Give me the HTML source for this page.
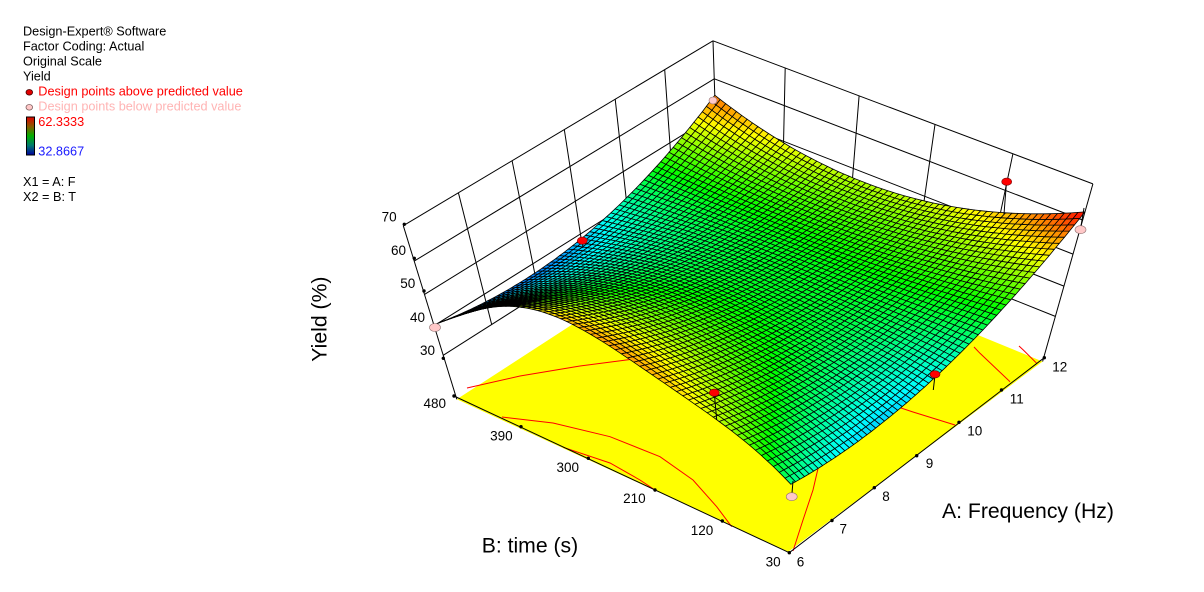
<!DOCTYPE html>
<html><head><meta charset="utf-8"><title>Yield response surface</title>
<style>
html,body{margin:0;padding:0;background:#fff}
body{width:1204px;height:592px;overflow:hidden}
svg{display:block}
</style></head><body>
<svg id="c" width="1204" height="592" viewBox="0 0 1204 592" xmlns="http://www.w3.org/2000/svg" font-family="'Liberation Sans', Arial, sans-serif">
<defs>
<linearGradient id="cb" x1="0" y1="0" x2="0" y2="1">
<stop offset="0" stop-color="#e00000"/>
<stop offset="0.25" stop-color="#8a5a00"/>
<stop offset="0.5" stop-color="#00b000"/>
<stop offset="0.75" stop-color="#007a70"/>
<stop offset="1" stop-color="#0000a0"/>
</linearGradient>
</defs>
<rect width="1204" height="592" fill="#fff"/>
<g id="floor"></g>
<g id="cont" fill="none" stroke="#ff0000" stroke-width="1">
<polyline points="467,388 520,376 580,366 642,358 700,351"/>
<polyline points="502,417 553,423 610,436.7 660,456.7 693,480 716.7,506.7 731.7,526.7"/>
<polyline points="563.3,447.3 610,463 640,480 655,490"/>
<polyline points="793,551 803,520 813,490 820,460"/>
<polyline points="880,401 913,412 955,425"/>
<polyline points="974,347 980,353.3 1010,381.7"/>
<polyline points="1019,346 1023.3,350 1036.7,363.3"/>
</g>
<g id="faxes" stroke="#000" stroke-width="1" fill="none">
<polyline points="454,396 789.3,552.7 1044.3,357.7"/>
</g>
<g id="walls" stroke="#000" stroke-width="1" fill="none"></g>
<g id="surf" stroke="#000" stroke-width="0.8" stroke-linejoin="round"></g>
<g id="pts">
<line x1="582.7" y1="241" x2="582.7" y2="248" stroke="#000"/>
<ellipse cx="582.3" cy="240.7" rx="5" ry="3.6" fill="#ff0000" stroke="#700" stroke-width="0.6"/>
<line x1="1006.5" y1="182" x2="1004" y2="214" stroke="#000"/>
<ellipse cx="1006.7" cy="181.7" rx="5" ry="3.6" fill="#ff0000" stroke="#700" stroke-width="0.6"/>
<line x1="935" y1="375" x2="933.3" y2="390" stroke="#000"/>
<ellipse cx="935" cy="374.3" rx="5" ry="3.6" fill="#ff0000" stroke="#700" stroke-width="0.6"/>
<line x1="714.3" y1="393" x2="716.7" y2="420" stroke="#000"/>
<ellipse cx="714.3" cy="392.7" rx="5" ry="3.6" fill="#ff0000" stroke="#700" stroke-width="0.6"/>
<ellipse cx="435" cy="327.5" rx="5.5" ry="4" fill="#ffc8c8" stroke="#907070" stroke-width="0.6"/>
<line x1="793" y1="481" x2="792" y2="493" stroke="#000"/>
<ellipse cx="791.7" cy="496.7" rx="5.5" ry="4" fill="#ffc8c8" stroke="#907070" stroke-width="0.6"/>
<line x1="1084" y1="208" x2="1081" y2="226" stroke="#000"/>
<ellipse cx="1080.5" cy="229.7" rx="5.5" ry="4" fill="#ffc8c8" stroke="#907070" stroke-width="0.6"/>
<ellipse cx="713" cy="100.5" rx="4" ry="3.5" fill="#ffc8c8" stroke="#907070" stroke-width="0.6"/>
</g>
<g id="ticks" fill="#000">
<circle cx="404.3" cy="224.3" r="1.7"/><circle cx="414.3" cy="258.3" r="1.7"/><circle cx="424" cy="291" r="1.7"/><circle cx="443.3" cy="358.3" r="1.7"/><circle cx="454" cy="396" r="1.7"/>
<circle cx="521" cy="426.7" r="1.7"/><circle cx="588.3" cy="458.3" r="1.7"/><circle cx="655" cy="490" r="1.7"/><circle cx="722.3" cy="521" r="1.7"/><circle cx="789.3" cy="552.7" r="1.7"/>
<circle cx="832" cy="520.5" r="1.7"/><circle cx="874.3" cy="487.7" r="1.7"/><circle cx="916.7" cy="455.7" r="1.7"/><circle cx="959" cy="422.3" r="1.7"/><circle cx="1001.5" cy="390" r="1.7"/><circle cx="1044.3" cy="357.7" r="1.7"/>
</g>
<g id="labels" font-size="13.5" fill="#000">
<text x="396.7" y="221.5" text-anchor="end">70</text>
<text x="406" y="254.8" text-anchor="end">60</text>
<text x="415.3" y="288" text-anchor="end">50</text>
<text x="425" y="321.8" text-anchor="end">40</text>
<text x="435" y="354.8" text-anchor="end">30</text>
<text x="446" y="408" text-anchor="end">480</text>
<text x="512.7" y="440.5" text-anchor="end">390</text>
<text x="579" y="472" text-anchor="end">300</text>
<text x="645.7" y="503" text-anchor="end">210</text>
<text x="713.3" y="534.8" text-anchor="end">120</text>
<text x="780.7" y="566.5" text-anchor="end">30</text>
<text x="796.7" y="566.5">6</text>
<text x="839.5" y="533.5">7</text>
<text x="882.3" y="500.8">8</text>
<text x="925.7" y="468">9</text>
<text x="967.3" y="435.5">10</text>
<text x="1009.8" y="403.5">11</text>
<text x="1052.3" y="371.5">12</text>
</g>
<g font-size="21.2" fill="#000">
<text x="481.7" y="552.7">B: time (s)</text>
<text x="942" y="518">A: Frequency (Hz)</text>
<text transform="translate(326.5,361.7) rotate(-90)">Yield (%)</text>
</g>
<g font-size="12.7" fill="#000">
<text x="23" y="35.7">Design-Expert® Software</text>
<text x="23" y="50.5">Factor Coding: Actual</text>
<text x="23" y="65.5">Original Scale</text>
<text x="23" y="80.5">Yield</text>
<ellipse cx="29.3" cy="92.3" rx="3.3" ry="2.8" fill="#e00000" stroke="#400" stroke-width="0.8"/>
<text x="38.3" y="95.5" fill="#ff0000">Design points above predicted value</text>
<ellipse cx="29.3" cy="107.3" rx="3.3" ry="2.8" fill="#ffc8c8" stroke="#806060" stroke-width="0.8"/>
<text x="38.3" y="110.5" fill="#ffb4b4">Design points below predicted value</text>
<rect x="26.5" y="117" width="8" height="38" fill="url(#cb)" stroke="#000" stroke-width="1"/>
<text x="38.3" y="126" fill="#ff0000">62.3333</text>
<text x="38.3" y="155.3" fill="#1a1aff">32.8667</text>
<text x="23" y="186">X1 = A: F</text>
<text x="23" y="201">X2 = B: T</text>
</g>
</svg>
<script>
(function(){
var NS='http://www.w3.org/2000/svg';
var CX=750,CY=300,SC=300;
var base=[[0,1,1,404.3,224.3],[0,1,0.75,414.3,258.3],[0,1,0.5,424,291],[0,1,0.25,434.3,326.7],[0,1,0,443.3,358.3],
[1,1,1,715,41.7],[1,1,0.75,715,77.7],[1,0,1,1092.3,183.3],[1,0,0.75,1083.2,216],[1,0,0,1055.5,317],
[0.5,1,1,560,131.7],[4/6,1,1,611.7,101.7],[5/6,1,1,664,71.7],[1,0.8,1,790,69.3]];
var fl=[[0,0,789.3,552.7],[0,1,454,396],[1,0,1044.3,357.7],[0,0.5,621.7,474.2],[0.5,0,916.7,455.7],
[0,0.2,722.3,521],[0,0.8,521,426.7],[1/3,0,874.3,487.7],[2/3,0,959,422.3]];
function pr(m,u,v,w){var d=m[8]*u+m[9]*v+m[10]*w+1;
 return [(m[0]*u+m[1]*v+m[2]*w+m[3])/d*SC+CX,(m[4]*u+m[5]*v+m[6]*w+m[7])/d*SC+CY,d];}
function solve(M,n){
 for(var c=0;c<n;c++){var p=c;for(var r=c+1;r<n;r++)if(Math.abs(M[r][c])>Math.abs(M[p][c]))p=r;
  var t=M[c];M[c]=M[p];M[p]=t;
  for(var r2=0;r2<n;r2++){if(r2===c)continue;var f=M[r2][c]/M[c][c];for(var k=c;k<=n;k++)M[r2][k]-=f*M[c][k];}}
 var x=[];for(var i=0;i<n;i++)x[i]=M[i][n]/M[i][i];return x;}
function fit(wf){
 var P=base.slice();fl.forEach(function(q){P.push([q[0],q[1],wf,q[2],q[3]]);});
 var M=[];for(var i=0;i<11;i++){var row=[];for(var j=0;j<12;j++)row.push(0);M.push(row);}
 function add(r,b){for(var i=0;i<11;i++){for(var j=0;j<11;j++)M[i][j]+=r[i]*r[j];M[i][11]+=r[i]*b;}}
 P.forEach(function(p){var u=p[0],v=p[1],w=p[2],x=(p[3]-CX)/SC,y=(p[4]-CY)/SC;
  add([u,v,w,1,0,0,0,0,-x*u,-x*v,-x*w],x);add([0,0,0,0,u,v,w,1,-y*u,-y*v,-y*w],y);});
 var m=solve(M,11);var err=0;
 P.forEach(function(p){var q=pr(m,p[0],p[1],p[2]);err+=(q[0]-p[3])*(q[0]-p[3])+(q[1]-p[4])*(q[1]-p[4]);});
 return [m,err];}
var best=null,WF=-0.3;
for(var wf=-0.7;wf<=0.001;wf+=0.005){var r=fit(wf);if(!best||r[1]<best[1]){best=r;WF=wf;}}
var m=best[0];
function P(u,v,w){return pr(m,u,v,w);}
function el(par,tag,at){var e=document.createElementNS(NS,tag);for(var k in at)e.setAttribute(k,at[k]);par.appendChild(e);return e;}
function ps(a){return a.map(function(p){return p[0].toFixed(1)+','+p[1].toFixed(1);}).join(' ');}
el(document.getElementById('floor'),'polygon',{points:ps([P(0,0,WF),P(0,1,WF),P(1,1,WF),P(1,0,WF)]),fill:'#ffff00'});
var W=document.getElementById('walls');
function line(a,b){el(W,'line',{x1:a[0].toFixed(1),y1:a[1].toFixed(1),x2:b[0].toFixed(1),y2:b[1].toFixed(1)});}
for(var k=0;k<=4;k++){var w=k/4;line(P(0,1,w),P(1,1,w));line(P(1,1,w),P(1,0,w));}
for(k=1;k<6;k++)line(P(k/6,1,0),P(k/6,1,1));
for(k=1;k<5;k++)line(P(1,k/5,0),P(1,k/5,1));
line(P(0,1,WF),P(0,1,1));line(P(1,0,WF),P(1,0,1));line(P(1,1,0),P(1,1,1));
var V=[[40.5,61,40.3],[41,46,38.5],[62.3,47.5,55.5]];
var C=[[0.38,0.85,0.21],[0.26,0.47,0.19],[1.0,0.68,0.9]];
function L(t){return [t*(t-1)/2,1-t*t,t*(t+1)/2];}
function bq(T,u,v){var lx=L(2*u-1),ly=L(2*v-1),s=0;for(var i=0;i<3;i++)for(var j=0;j<3;j++)s+=T[i][j]*lx[i]*ly[j];return s;}
function corr(u,v){var g=-3.5*Math.sin(2*Math.PI*v)*Math.sin(Math.PI*v);return g*(1-u)*(1-u);}
function col(t){t=Math.max(0,Math.min(1,t));
 var h=240*(1-t)/60,i=Math.floor(h),f=h-i,r,g,b;
 if(i<=0){r=1;g=f;b=0;}else if(i==1){r=1-f;g=1;b=0;}else if(i==2){r=0;g=1;b=f;}else if(i==3){r=0;g=1-f;b=1;}else{r=0;g=0;b=1;}
 return 'rgb('+Math.round(r*255)+','+Math.round(g*255)+','+Math.round(b*255)+')';}
var N=64,G=[],Cv=[];
for(var i=0;i<=N;i++){G.push([]);Cv.push([]);for(var j=0;j<=N;j++){var u=i/N,v=j/N,Y=bq(V,u,v)+corr(u,v);Cv[i].push(bq(C,u,v));G[i].push(P(u,v,(Y-30)/40));}}
var Q=[];
for(i=0;i<N;i++)for(j=0;j<N;j++){var pts=[G[i][j],G[i+1][j],G[i+1][j+1],G[i][j+1]];
 var d=(pts[0][2]+pts[1][2]+pts[2][2]+pts[3][2])/4;var c=(Cv[i][j]+Cv[i+1][j]+Cv[i+1][j+1]+Cv[i][j+1])/4;Q.push([d,pts,c]);}
Q.sort(function(a,b){return b[0]-a[0];});
var S=document.getElementById('surf');
Q.forEach(function(q){el(S,'polygon',{points:ps(q[1]),fill:col(q[2])});});
})();
</script>
</body></html>
